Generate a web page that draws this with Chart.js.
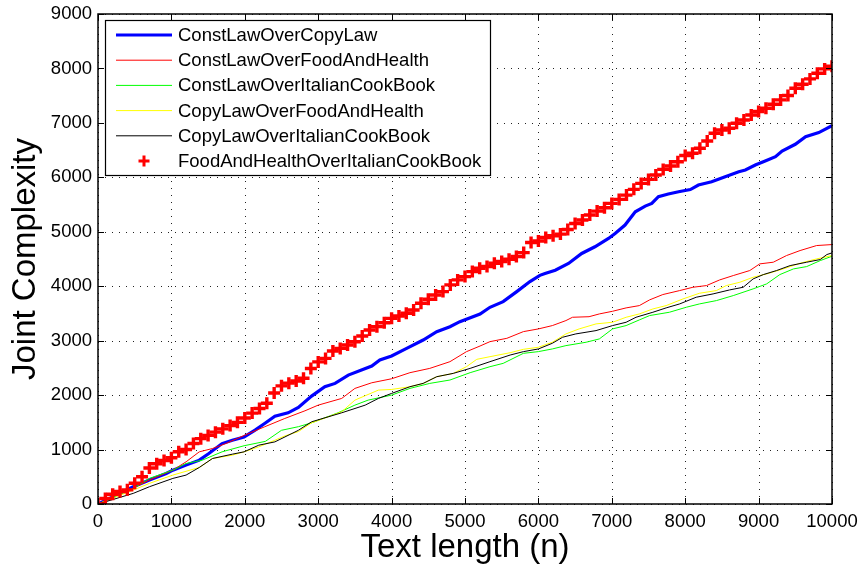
<!DOCTYPE html>
<html><head><meta charset="utf-8">
<script src="https://cdn.jsdelivr.net/npm/chart.js@4.4.1/dist/chart.umd.min.js"></script>
<style>html,body{margin:0;padding:0;background:#fff;}</style>
</head><body>
<canvas id="c" width="859" height="568"></canvas>
<script>
// ---- data ----
const seriesNames = ["ConstLawOverCopyLaw","ConstLawOverFoodAndHealth","ConstLawOverItalianCookBook","CopyLawOverFoodAndHealth","CopyLawOverItalianCookBook","FoodAndHealthOverItalianCookBook"];
const xTickValues = [0,1000,2000,3000,4000,5000,6000,7000,8000,9000,10000];
const yTickValues = [0,1000,2000,3000,4000,5000,6000,7000,8000,9000];

const copyLawX = [0,300,480,700,930,1020,1200,1380,1510,1690,1830,1990,2140,2270,2410,2590,2730,2910,3090,3230,3410,3590,3730,3840,4000,4205,4430,4615,4795,4930,5205,5340,5520,5705,5885,6020,6090,6230,6410,6590,6770,6955,7045,7180,7320,7455,7545,7635,7770,7910,8070,8180,8360,8545,8730,8820,8955,9090,9230,9320,9500,9640,9820,10000];
const copyLawY = [0,195,317,439,561,622,714,805,927,1110,1171,1232,1356,1479,1614,1675,1773,1982,2153,2215,2368,2460,2533,2644,2720,2859,3012,3166,3257,3349,3490,3613,3717,3901,4085,4200,4234,4295,4418,4602,4724,4877,4969,5123,5368,5472,5521,5644,5693,5736,5775,5859,5920,6012,6104,6135,6227,6300,6380,6484,6607,6748,6821,6950];

const foodHealthX = [0,480,700,1020,1200,1380,1560,1740,2000,2270,2545,2820,3000,3320,3500,3730,4000,4250,4520,4795,5020,5205,5340,5570,5795,6000,6190,6375,6465,6690,6830,7010,7195,7375,7515,7695,7925,8105,8290,8470,8655,8880,9015,9200,9380,9565,9790,10000];
const foodHealthY = [0,290,440,622,775,958,1019,1110,1264,1418,1571,1712,1816,1939,2123,2227,2300,2412,2491,2614,2798,2902,2982,3043,3166,3216,3277,3369,3430,3440,3491,3540,3602,3644,3749,3847,3920,3981,4012,4116,4196,4288,4410,4441,4563,4655,4747,4765];

const italianX = [0,480,700,1020,1200,1420,1690,1990,2280,2500,2730,2910,3270,3500,3680,4000,4250,4520,4795,5070,5340,5520,5795,6000,6190,6375,6650,6830,7010,7195,7375,7515,7785,8015,8195,8425,8655,8925,9110,9290,9475,9655,9840,10000];
const italianY = [0,287,470,622,744,805,958,1070,1150,1354,1420,1491,1675,1816,1908,2000,2123,2215,2277,2412,2522,2583,2767,2799,2848,2909,2971,3032,3216,3277,3381,3461,3522,3614,3675,3736,3828,3951,4043,4214,4318,4361,4471,4551];

const copyFoodX = [0,480,700,1020,1380,1560,1830,1990,2190,2410,2545,2730,2910,3320,3500,3820,4000,4250,4430,4615,4840,5020,5160,5340,5615,5795,6000,6190,6375,6555,6785,7010,7195,7375,7560,7740,7970,8195,8425,8560,8745,8925,9110,9335,9565,9790,10000];
const copyFoodY = [0,256,378,531,671,836,897,958,1049,1171,1250,1330,1491,1693,1908,2092,2104,2154,2215,2338,2399,2522,2657,2706,2779,2841,2879,2971,3124,3216,3308,3338,3430,3491,3583,3644,3767,3871,3920,4012,4073,4165,4226,4318,4422,4502,4563];

const copyItalX = [0,480,700,1020,1200,1380,1560,1830,1990,2190,2410,2730,2910,3320,3640,3820,4000,4250,4430,4615,4840,5070,5340,5615,5795,6000,6190,6330,6510,6785,7010,7195,7330,7560,7740,7925,8150,8380,8605,8790,8925,9065,9245,9430,9655,9840,9930,10000];
const copyItalY = [0,195,317,470,531,671,836,915,958,1080,1141,1354,1510,1675,1816,1939,2031,2154,2215,2338,2399,2491,2614,2736,2798,2848,2952,3063,3124,3185,3277,3338,3430,3522,3602,3675,3798,3859,3932,3981,4134,4214,4288,4379,4441,4490,4582,4612];

const crossX = [0,100,200,300,400,500,600,700,800,900,1000,1100,1200,1300,1400,1500,1600,1700,1800,1900,2000,2100,2200,2300,2400,2500,2600,2700,2800,2900,3000,3100,3200,3300,3400,3500,3600,3700,3800,3900,4000,4100,4200,4300,4400,4500,4600,4700,4800,4900,5000,5100,5200,5300,5400,5500,5600,5700,5800,5900,6000,6100,6200,6300,6400,6500,6600,6700,6800,6900,7000,7100,7200,7300,7400,7500,7600,7700,7800,7900,8000,8100,8200,8300,8400,8500,8600,8700,8800,8900,9000,9100,9200,9300,9400,9500,9600,9700,9800,9900,10000];
const crossY = [0,100,180,230,260,380,500,660,740,800,850,960,1000,1110,1200,1260,1320,1380,1440,1500,1580,1670,1755,1850,2040,2170,2220,2260,2310,2490,2610,2674,2809,2858,2920,2981,3085,3195,3257,3330,3410,3454,3503,3564,3687,3760,3840,3901,4024,4116,4177,4269,4330,4361,4422,4453,4496,4545,4618,4802,4830,4896,4926,4957,5043,5153,5215,5307,5380,5441,5521,5595,5674,5779,5889,5962,6042,6146,6208,6287,6400,6441,6533,6668,6809,6870,6901,6993,7054,7146,7208,7269,7342,7422,7502,7637,7710,7808,7913,7992,8040];

// ---- build ----
const pts = (xs, ys) => xs.map((x, i) => ({x: x, y: ys[i]}));
const FONT = "'Liberation Sans', Arial, Helvetica, sans-serif";

const datasets = [
  {label: seriesNames[0], data: pts(copyLawX, copyLawY), borderColor: '#0000ff', borderWidth: 3.2, pointRadius: 0, order: 5},
  {label: seriesNames[1], data: pts(foodHealthX, foodHealthY), borderColor: '#ff0000', borderWidth: 1, pointRadius: 0, order: 4},
  {label: seriesNames[2], data: pts(italianX, italianY), borderColor: '#00ff00', borderWidth: 1, pointRadius: 0, order: 3},
  {label: seriesNames[3], data: pts(copyFoodX, copyFoodY), borderColor: '#ffff00', borderWidth: 1, pointRadius: 0, order: 2},
  {label: seriesNames[4], data: pts(copyItalX, copyItalY), borderColor: '#000000', borderWidth: 1, pointRadius: 0, order: 1},
  {label: seriesNames[5], data: pts(crossX, crossY), showLine: false, borderColor: '#ff0000', backgroundColor: '#ff0000',
   pointStyle: 'cross', pointRadius: 6, pointBorderWidth: 3.4, pointBorderColor: '#ff0000', pointHoverRadius: 6, order: 0}
];

const gridPlugin = {
  id: 'dotgrid',
  beforeDatasetsDraw(chart) {
    const ctx = chart.ctx, a = chart.chartArea;
    const xs = chart.scales.x, ys = chart.scales.y;
    ctx.save();
    ctx.strokeStyle = '#222';
    ctx.lineWidth = 1;
    ctx.setLineDash([1, 6]);
    ctx.beginPath();
    xs.ticks.forEach(t => {
      const p = Math.round(xs.getPixelForValue(t.value)) + 0.5;
      ctx.moveTo(p, a.bottom); ctx.lineTo(p, a.top);
    });
    ys.ticks.forEach(t => {
      const p = Math.round(ys.getPixelForValue(t.value)) + 0.5;
      ctx.moveTo(a.left, p); ctx.lineTo(a.right, p);
    });
    ctx.stroke();
    ctx.restore();
  }
};

const framePlugin = {
  id: 'frame',
  afterDatasetsDraw(chart) {
    const ctx = chart.ctx, a = chart.chartArea;
    const xs = chart.scales.x, ys = chart.scales.y;
    ctx.save();
    ctx.strokeStyle = '#000';
    ctx.lineWidth = 1.5;
    ctx.strokeRect(a.left, a.top, a.right - a.left, a.bottom - a.top);
    ctx.lineWidth = 1;
    const tl = 6;
    ctx.beginPath();
    xs.ticks.forEach(t => {
      const p = Math.round(xs.getPixelForValue(t.value)) + 0.5;
      ctx.moveTo(p, a.bottom); ctx.lineTo(p, a.bottom - tl);
      ctx.moveTo(p, a.top); ctx.lineTo(p, a.top + tl);
    });
    ys.ticks.forEach(t => {
      const p = Math.round(ys.getPixelForValue(t.value)) + 0.5;
      ctx.moveTo(a.left, p); ctx.lineTo(a.left + tl, p);
      ctx.moveTo(a.right, p); ctx.lineTo(a.right - tl, p);
    });
    ctx.stroke();

    // legend box
    const L = a.left + 7, T = a.top + 6, W = 385, H = 155;
    ctx.fillStyle = '#fff';
    ctx.fillRect(L, T, W, H);
    ctx.lineWidth = 1.2;
    ctx.strokeRect(L + 0.5, T + 0.5, W, H);
    ctx.font = '18.5px ' + FONT;
    ctx.textBaseline = 'middle';
    ctx.textAlign = 'left';
    chart.data.datasets.forEach((ds, i) => {
      const y = T + 15 + i * 25.2;
      if (ds.showLine === false) {
        const cx = L + 39, r = 5.5;
        ctx.strokeStyle = ds.pointBorderColor;
        ctx.lineWidth = 3;
        ctx.beginPath();
        ctx.moveTo(cx - r, y); ctx.lineTo(cx + r, y);
        ctx.moveTo(cx, y - r); ctx.lineTo(cx, y + r);
        ctx.stroke();
      } else {
        ctx.strokeStyle = ds.borderColor;
        ctx.lineWidth = ds.borderWidth;
        ctx.beginPath();
        ctx.moveTo(L + 11, y); ctx.lineTo(L + 67, y);
        ctx.stroke();
      }
      ctx.fillStyle = '#000';
      ctx.fillText(ds.label, L + 73, y + 1);
    });
    ctx.restore();
  }
};

new Chart(document.getElementById('c'), {
  type: 'line',
  data: {datasets: datasets},
  options: {
    responsive: false,
    animation: false,
    devicePixelRatio: 1,
    layout: {padding: {top: 14, right: 27, left: 0, bottom: 0}},
    plugins: {legend: {display: false}, tooltip: {enabled: false}},
    elements: {line: {tension: 0, fill: false}},
    scales: {
      x: {
        type: 'linear', min: 0, max: 10000,
        afterBuildTicks: s => { s.ticks = xTickValues.map(v => ({value: v})); },
        afterFit: s => { s.height = 64; s.paddingRight = 0; s.paddingLeft = 0; },
        ticks: {color: '#000', font: {size: 18.5, family: FONT}, padding: 7, maxRotation: 0, callback: v => String(v)},
        grid: {display: false, drawTicks: false},
        border: {display: false},
        title: {display: true, text: 'Text length (n)', color: '#000', font: {size: 33, family: FONT}, padding: {top: 0, bottom: 0}}
      },
      y: {
        type: 'linear', min: 0, max: 9000,
        afterBuildTicks: s => { s.ticks = yTickValues.map(v => ({value: v})); },
        afterFit: s => { s.width = 98; s.paddingTop = 0; s.paddingBottom = 0; },
        ticks: {color: '#000', font: {size: 18.5, family: FONT}, padding: 6, callback: v => String(v)},
        grid: {display: false, drawTicks: false},
        border: {display: false},
        title: {display: true, text: 'Joint Complexity', color: '#000', font: {size: 33, family: FONT}, padding: {top: 6, bottom: 0}}
      }
    }
  },
  plugins: [gridPlugin, framePlugin]
});
</script>
</body></html>
